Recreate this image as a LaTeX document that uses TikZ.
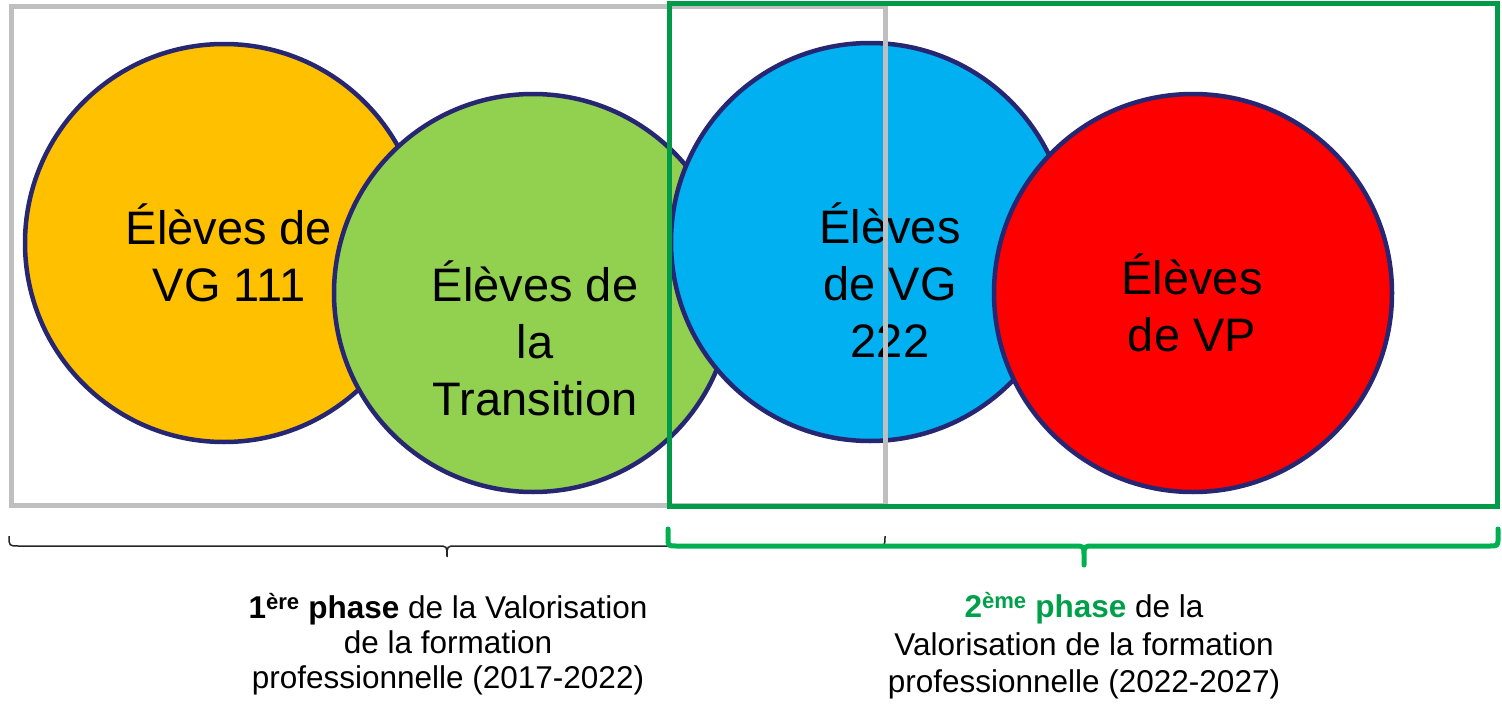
\documentclass[tikz,border=0pt]{standalone}
\usepackage{fontspec}
\setmainfont{Liberation Sans}
\definecolor{cOrange}{HTML}{FFC000}
\definecolor{cLime}{HTML}{92D050}
\definecolor{cBlue}{HTML}{00B0F0}
\definecolor{cRed}{HTML}{FF0000}
\definecolor{cNavy}{HTML}{262673}
\definecolor{cGray}{HTML}{BFBFBF}
\definecolor{cGreenBox}{HTML}{009A48}
\definecolor{cGreenBrace}{HTML}{00B050}
\definecolor{cGreenText}{HTML}{00A04A}
\definecolor{cBrace}{HTML}{262626}
\begin{document}
\begin{tikzpicture}[x=1pt,y=-1pt,
  circ/.style={circle, draw=cNavy, line width=4.5pt, minimum size=398pt, inner sep=0pt},
  bigtext/.style={font=\fontsize{47}{57}\selectfont, align=center, text=black, inner sep=0pt},
  smalltextA/.style={font=\fontsize{31.5}{35}\selectfont, align=center, text=black, inner sep=0pt},
  smalltextB/.style={font=\fontsize{31.5}{37.5}\selectfont, align=center, text=black, inner sep=0pt},
  graybox/.style={draw=cGray, line width=5pt},
  greenbox/.style={draw=cGreenBox, line width=5pt},
  blackbrace/.style={draw=cBrace, line width=1.5pt},
  greenbrace/.style={draw=cGreenBrace, line width=5pt, line cap=round, line join=round},
]
\useasboundingbox (0,0) rectangle (1502,704);

% circles
\node[circ, fill=cOrange] (orange) at (224,243) {};
\node[circ, fill=cLime] (lime) at (533,293) {};
\node[circ, fill=cBlue] (blue) at (870,242) {};
\node[circ, fill=cRed] (red) at (1193,293) {};

% circle texts
\node[bigtext] (torange) at (229,253) {Élèves de\\VG 111};
\node[bigtext] (tlime) at (535,338) {Élèves de\\la\\Transition};
\node[bigtext] (tblue) at (890,280) {Élèves\\de VG\\222};
\node[bigtext] (tred) at (1192,303) {Élèves\\de VP};

% phase boxes
\draw[graybox] (11,6) rectangle (885,505);
\draw[greenbox] (669,3) rectangle (1497,506);

% braces
\draw[blackbrace] (9,536) .. controls (9,546) .. (19,546) -- (438,546)
  .. controls (447,546) .. (447,557) .. controls (447,546) .. (456,546)
  -- (876,546) .. controls (885,546) .. (885,536);
\draw[greenbrace] (668,529) -- (668,538) .. controls (668,546) .. (677,546) -- (1074,546)
  .. controls (1084,546) .. (1084,556) -- (1084,565) -- (1084,556)
  .. controls (1084,546) .. (1094,546) -- (1489,546)
  .. controls (1498,546) .. (1498,538) -- (1498,529);

% phase labels
\node[smalltextA] (phase1) at (448,644) {\textbf{1\textsuperscript{ère} phase} de la Valorisation\\de la formation\\professionnelle (2017-2022)};
\node[smalltextB] (phase2) at (1084,646) {\textcolor{cGreenText}{\textbf{2\textsuperscript{ème} phase}} de la\\Valorisation de la formation\\professionnelle (2022-2027)};
\end{tikzpicture}
\end{document}
